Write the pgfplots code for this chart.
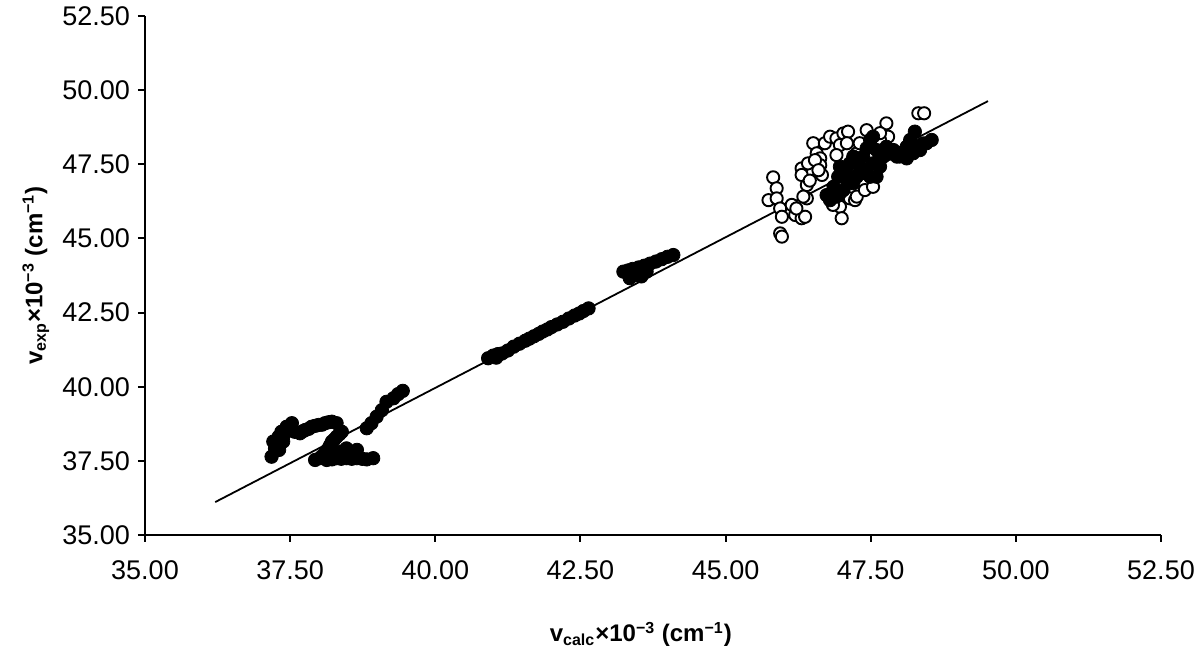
\documentclass[border=0pt]{standalone}
\usepackage{fontspec}
\setmainfont{Liberation Sans}
\usepackage{pgfplots}
\pgfplotsset{compat=1.18}
\begin{document}
\begin{tikzpicture}
\useasboundingbox (-72.5pt,-60.5pt) rectangle (527.5pt,267.5pt);
\begin{axis}[
  scale only axis, width=508pt, height=259.5pt,
  at={(0,0)}, anchor=south west,
  xmin=35, xmax=52.5, ymin=35, ymax=52.5,
  xtick={35,37.5,...,52.5}, ytick={35,37.5,...,52.5},
  axis x line*=bottom, axis y line*=left,
  tick align=outside, major tick length=3.5pt,
  axis line style={line width=1pt},
  every tick/.style={black, line width=1pt},
  /pgf/number format/assume math mode=true,
  /pgf/number format/.cd, fixed, fixed zerofill, precision=2, /pgfplots/.cd,
  ticklabel style={font=\fontsize{13.5}{15}\selectfont},
  xticklabel style={yshift=-6pt},
  yticklabel style={xshift=-0.5pt},
  xlabel={\textbf{v\textsubscript{calc}×10\textsuperscript{−3} (cm\textsuperscript{−1})}},
  ylabel={\textbf{v\textsubscript{exp}×10\textsuperscript{−3} (cm\textsuperscript{−1})}},
  xlabel style={font=\fontsize{12}{14}\selectfont, at={(axis description cs:0.488,-0.206)}, anchor=base},
  ylabel style={font=\fontsize{12}{14}\selectfont, at={(axis description cs:-0.101,0.5)}, anchor=base},
  clip=false,
]
% regression line
\addplot[black, line width=0.9pt, no marks] coordinates {(36.21,36.11) (49.52,49.63)};

% open circles
\addplot[only marks, mark=*, mark size=3.05pt, mark options={fill=white, draw=black, line width=0.95pt}] coordinates {
(45.82,47.06) (45.88,46.69) (45.74,46.29) (45.88,46.35) (45.94,46.01) (45.97,45.73)
(45.94,45.17) (45.97,45.06) (46.14,46.13) (46.20,45.79) (46.31,45.68) (46.37,45.73)
(46.31,47.36) (46.31,47.14) (46.42,47.53) (46.40,46.80) (46.40,46.35) (46.51,48.21)
(46.57,47.87) (46.63,47.70) (46.63,47.47) (46.66,47.14) (46.54,47.64) (46.71,48.21)
(46.80,48.43) (46.91,48.37) (47.03,48.54) (47.11,48.60) (46.97,48.15) (47.09,48.21)
(46.91,47.81) (46.97,46.07) (47.00,45.68) (47.14,46.35) (47.23,46.29) (47.26,46.41)
(47.40,46.63) (47.54,46.74) (47.43,48.65) (47.77,48.88) (47.80,48.43) (47.66,48.32)
(48.32,49.22) (48.42,49.22) (46.85,46.13) (46.97,46.52) (46.22,46.01) (46.34,46.41)
(48.00,47.76) (47.26,47.87) (47.31,48.21) (47.66,48.55) (46.60,47.30) (46.45,46.95)
};

% filled circles
\addplot[only marks, mark=*, mark size=3.35pt, black] coordinates {
% lower-left cluster
(37.18,37.64) (37.24,37.92) (37.21,38.15) (37.30,38.31) (37.35,38.48) (37.44,38.65)
(37.53,38.77) (37.38,38.15) (37.31,37.87) (37.58,38.48) (37.27,38.05) (37.40,38.40)
(37.67,38.43) (37.76,38.54) (37.87,38.65) (37.99,38.71) (38.10,38.77) (38.22,38.82) (38.30,38.77)
(37.72,38.50) (37.82,38.58) (37.93,38.68) (38.05,38.72) (38.16,38.80)
(38.39,38.48) (38.30,38.31) (38.22,38.15) (38.16,37.92) (38.10,37.75) (38.01,37.59) (37.93,37.53)
(38.35,38.40) (38.26,38.22) (38.19,38.03) (38.13,37.84) (38.05,37.66)
(38.13,37.53) (38.30,37.59) (38.47,37.59) (38.65,37.59) (38.82,37.55) (38.93,37.59)
(38.22,37.55) (38.38,37.57) (38.56,37.57) (38.74,37.57)
(38.47,37.92) (38.65,37.87) (38.36,37.81) (38.55,37.78)
(38.82,38.60) (38.90,38.77) (38.99,38.99) (39.08,39.21) (39.16,39.49) (39.28,39.61) (39.36,39.75) (39.44,39.86)
% middle chain
(40.91,40.96) (41.00,41.05) (41.08,41.10) (41.15,41.12) (41.05,40.98) (41.25,41.22) (41.35,41.35)
(41.45,41.45) (41.55,41.55) (41.62,41.62) (41.70,41.70) (41.78,41.78) (41.85,41.86)
(41.93,41.93) (42.00,42.01) (42.10,42.10) (42.20,42.19) (42.30,42.30) (42.40,42.40)
(42.48,42.47) (42.55,42.55) (42.64,42.64)
(43.24,43.88) (43.32,43.92) (43.40,43.97) (43.50,44.02) (43.60,44.08) (43.70,44.15)
(43.80,44.22) (43.90,44.30) (44.00,44.38) (44.10,44.44)
(43.35,43.66) (43.47,43.77) (43.55,43.72) (43.64,43.88)
% upper-right cluster
(46.74,46.46) (46.86,46.74) (46.94,47.08) (46.97,47.42) (47.09,47.19) (47.14,47.53)
(47.20,47.76) (47.31,47.42) (47.37,47.76) (47.43,48.04) (47.49,48.32) (47.54,48.43)
(47.60,47.98) (47.54,47.53) (47.49,47.08) (47.43,47.31) (47.66,47.42) (47.72,47.76)
(47.77,48.09) (47.89,47.98) (47.95,47.76) (47.26,47.08) (47.20,46.86) (47.03,46.63)
(46.91,46.41) (46.80,46.29) (48.12,48.09) (48.18,48.32) (48.26,48.60) (48.23,47.87)
(48.35,47.98) (48.46,48.21) (48.55,48.32) (48.12,47.70) (47.60,47.08) (47.09,46.97)
(47.35,47.20) (47.65,47.70) (47.80,47.85) (48.05,47.90) (48.30,48.10) (48.40,48.20)
};
\end{axis}
\end{tikzpicture}
\end{document}
